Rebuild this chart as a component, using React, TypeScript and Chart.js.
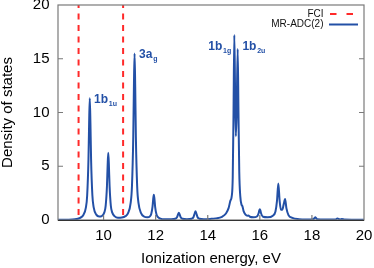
import React, { useEffect, useRef } from "react";
import { Chart, registerables } from "chart.js";
Chart.register(...registerables);

const energies = [
  8.25, 8.6, 8.9, 9.1, 9.22, 9.32, 9.37, 9.42, 9.445, 9.47, 9.495, 9.52, 9.57, 9.62, 9.72, 9.83, 9.93,
  10.03, 10.08, 10.13, 10.155, 10.18, 10.205, 10.23, 10.28, 10.33, 10.43, 10.55, 10.7, 10.84, 10.94,
  11.04, 11.09, 11.14, 11.165, 11.19, 11.215, 11.24, 11.29, 11.34, 11.44, 11.55, 11.68, 11.78, 11.83,
  11.88, 11.905, 11.93, 11.955, 11.98, 12.03, 12.08, 12.18, 12.35, 12.6, 12.75, 12.82, 12.86, 12.89,
  12.92, 12.96, 13.03, 13.2, 13.38, 13.45, 13.5, 13.53, 13.56, 13.61, 13.68, 13.85, 14.1, 14.3, 14.55,
  14.7, 14.8, 14.87, 14.92, 14.96, 14.99, 15.02, 15.05, 15.08, 15.11, 15.15, 15.18, 15.21, 15.25, 15.3,
  15.33, 15.38, 15.45, 15.52, 15.56, 15.62, 15.75, 15.9, 15.95, 15.98, 16.0, 16.02, 16.05, 16.12, 16.3,
  16.5, 16.6, 16.66, 16.71, 16.76, 16.81, 16.86, 16.92, 16.97, 17.02, 17.1, 17.25, 17.5, 17.8, 18.05,
  18.1, 18.13, 18.16, 18.2, 18.5, 18.9, 18.96, 18.99, 19.02, 19.08, 19.15, 19.25, 20,
];
const dos = [
  0.02, 0.03, 0.06, 0.2, 0.45, 1.15, 2.28, 5.67, 9.0, 11.33, 9.05, 5.7, 2.3, 1.18, 0.5, 0.33, 0.37,
  0.71, 1.31, 3.16, 5.0, 6.25, 5.05, 3.2, 1.3, 0.71, 0.34, 0.22, 0.24, 0.36, 0.63,
  1.6, 3.14, 7.8, 12.4, 15.5, 12.4, 7.78, 3.13, 1.6, 0.64, 0.33, 0.25, 0.34, 0.56,
  1.24, 1.93, 2.35, 1.92, 1.23, 0.54, 0.29, 0.13, 0.07, 0.07, 0.11, 0.26, 0.52, 0.67,
  0.52, 0.26, 0.11, 0.07, 0.12, 0.26, 0.63, 0.82, 0.63, 0.26, 0.12, 0.07, 0.1, 0.15, 0.3,
  0.6, 1.1, 1.8, 2.2, 4.0, 10.0, 17.2, 12.0, 7.8, 10.0, 15.9, 10.0, 4.5, 2.2, 1.4,
  1.3, 0.8, 0.5, 0.4, 0.42, 0.3, 0.25, 0.35, 0.6, 0.9, 1.0, 0.9, 0.6, 0.3, 0.25,
  0.4, 0.8, 1.8, 3.4, 1.8, 0.95, 0.95, 1.5, 1.95, 1.1, 0.45, 0.2, 0.08, 0.05, 0.08,
  0.18, 0.25, 0.18, 0.08, 0.04, 0.05, 0.12, 0.15, 0.1, 0.05, 0.1, 0.04, 0.02,
];
const fciEnergies = [9.04, 10.75];
const xTickValues = [10, 12, 14, 16, 18, 20];
const yTickValues = [0, 5, 10, 15, 20];
const legendNames = ["FCI", "MR-ADC(2)"];
const labelMains = ["1b", "3a", "1b", "1b"];
const labelSubs = ["1u", "g", "1g", "2u"];

const BLUE = "#2350a6";
const RED = "#ff2a2a";
const FONT = "'Liberation Sans', Arial, Helvetica, sans-serif";

export default function App() {
  const ref = useRef<HTMLCanvasElement | null>(null);
  useEffect(() => {
    const canvas = ref.current;
    if (!canvas) return;
    const labelAnchors = [
      [9.635, 10.93],
      [11.365, 15.03],
      [14.02, 15.8],
      [15.33, 15.8],
    ];
    const framePlugin = {
      id: "framePlugin",
      afterDraw(chart: any) {
        const ctx = chart.ctx;
        const { left, right, top, bottom } = chart.chartArea;
        const xs = chart.scales.x;
        const ys = chart.scales.y;
        ctx.save();
        ctx.strokeStyle = "#7a7a7a";
        ctx.lineWidth = 1.2;
        ctx.strokeRect(left, top, right - left, bottom - top);
        ctx.beginPath();
        xTickValues.forEach((v) => {
          const px = xs.getPixelForValue(v);
          if (v < 20) {
            ctx.moveTo(px, bottom);
            ctx.lineTo(px, bottom - 5);
          }
        });
        yTickValues.forEach((v) => {
          const py = ys.getPixelForValue(v);
          if (v > 0 && v < 20) {
            ctx.moveTo(left, py);
            ctx.lineTo(left + 5, py);
            ctx.moveTo(right, py);
            ctx.lineTo(right - 5, py);
          }
        });
        ctx.stroke();
        ctx.strokeStyle = "#333";
        ctx.lineWidth = 1;
        ctx.beginPath();
        ctx.moveTo(left, bottom + 0.5);
        ctx.lineTo(right, bottom + 0.5);
        ctx.stroke();

        // legend
        ctx.fillStyle = "#111";
        ctx.font = `10px ${FONT}`;
        ctx.textAlign = "right";
        ctx.textBaseline = "middle";
        ctx.fillText(legendNames[0], 323.5, 14);
        ctx.fillText(legendNames[1], 323.5, 24.5);
        ctx.lineWidth = 2;
        ctx.strokeStyle = RED;
        ctx.setLineDash([6.5, 10]);
        ctx.beginPath();
        ctx.moveTo(330, 14);
        ctx.lineTo(358, 14);
        ctx.stroke();
        ctx.setLineDash([]);
        ctx.strokeStyle = BLUE;
        ctx.beginPath();
        ctx.moveTo(329, 24.5);
        ctx.lineTo(358, 24.5);
        ctx.stroke();

        // peak labels
        ctx.fillStyle = BLUE;
        ctx.textAlign = "left";
        ctx.textBaseline = "alphabetic";
        labelMains.forEach((m, i) => {
          const px = xs.getPixelForValue(labelAnchors[i][0]);
          const py = ys.getPixelForValue(labelAnchors[i][1]);
          ctx.font = `bold 12px ${FONT}`;
          ctx.fillText(m, px, py);
          const w = ctx.measureText(m).width;
          ctx.font = `bold 7px ${FONT}`;
          ctx.fillText(labelSubs[i], px + w + 0.8, py + 3);
        });
        ctx.restore();
      },
    };

    const chart = new Chart(canvas, {
      type: "line",
      data: {
        datasets: [
          {
            label: legendNames[0],
            data: [
              { x: fciEnergies[0], y: 20 },
              { x: fciEnergies[0], y: 0 },
            ],
            borderColor: RED,
            borderWidth: 2,
            borderDash: [6, 5.5],
            borderDashOffset: 3,
            pointRadius: 0,
          },
          {
            label: legendNames[0] + " ",
            data: [
              { x: fciEnergies[1], y: 20 },
              { x: fciEnergies[1], y: 0 },
            ],
            borderColor: RED,
            borderWidth: 2,
            borderDash: [6, 5.5],
            borderDashOffset: 3,
            pointRadius: 0,
          },
          {
            label: legendNames[1],
            data: energies.map((e, i) => ({ x: e, y: dos[i] })),
            borderColor: BLUE,
            borderWidth: 2,
            pointRadius: 0,
            cubicInterpolationMode: "monotone",
          },
        ],
      },
      options: {
        animation: false,
        responsive: true,
        maintainAspectRatio: false,
        layout: { padding: { top: 5, right: 10, bottom: 0, left: 0 } },
        plugins: { legend: { display: false }, tooltip: { enabled: false } },
        scales: {
          x: {
            type: "linear",
            min: 8.25,
            max: 20,
            grid: { display: false, drawTicks: false },
            border: { display: false },
            afterBuildTicks: (s: any) => {
              s.ticks = xTickValues.map((v) => ({ value: v }));
            },
            afterFit: (s: any) => {
              s.height = 48;
              s.paddingLeft = 0;
              s.paddingRight = 0;
            },
            ticks: {
              color: "#000",
              font: { family: FONT, size: 15 },
              padding: 7,
              maxRotation: 0,
              autoSkip: false,
            },
            title: {
              display: true,
              text: "Ionization energy, eV",
              color: "#000",
              font: { family: FONT, size: 15 },
              padding: { top: 0, bottom: 0 },
            },
          },
          y: {
            type: "linear",
            min: 0,
            max: 20,
            grid: { display: false, drawTicks: false },
            border: { display: false },
            afterBuildTicks: (s: any) => {
              s.ticks = yTickValues.map((v) => ({ value: v }));
            },
            afterFit: (s: any) => {
              s.width = 58;
              s.paddingTop = 0;
              s.paddingBottom = 0;
            },
            ticks: {
              color: "#000",
              font: { family: FONT, size: 15 },
              padding: 8.5,
              autoSkip: false,
            },
            title: {
              display: true,
              text: "Density of states",
              color: "#000",
              font: { family: FONT, size: 15, lineHeight: 1 },
              padding: { top: 0, bottom: 0 },
            },
          },
        },
      },
      plugins: [framePlugin],
    });
    return () => chart.destroy();
  }, []);
  return (
    <div style={{ position: "fixed", left: 0, top: 0, width: 374, height: 268, background: "#fff" }}>
      <canvas ref={ref} />
    </div>
  );
}
